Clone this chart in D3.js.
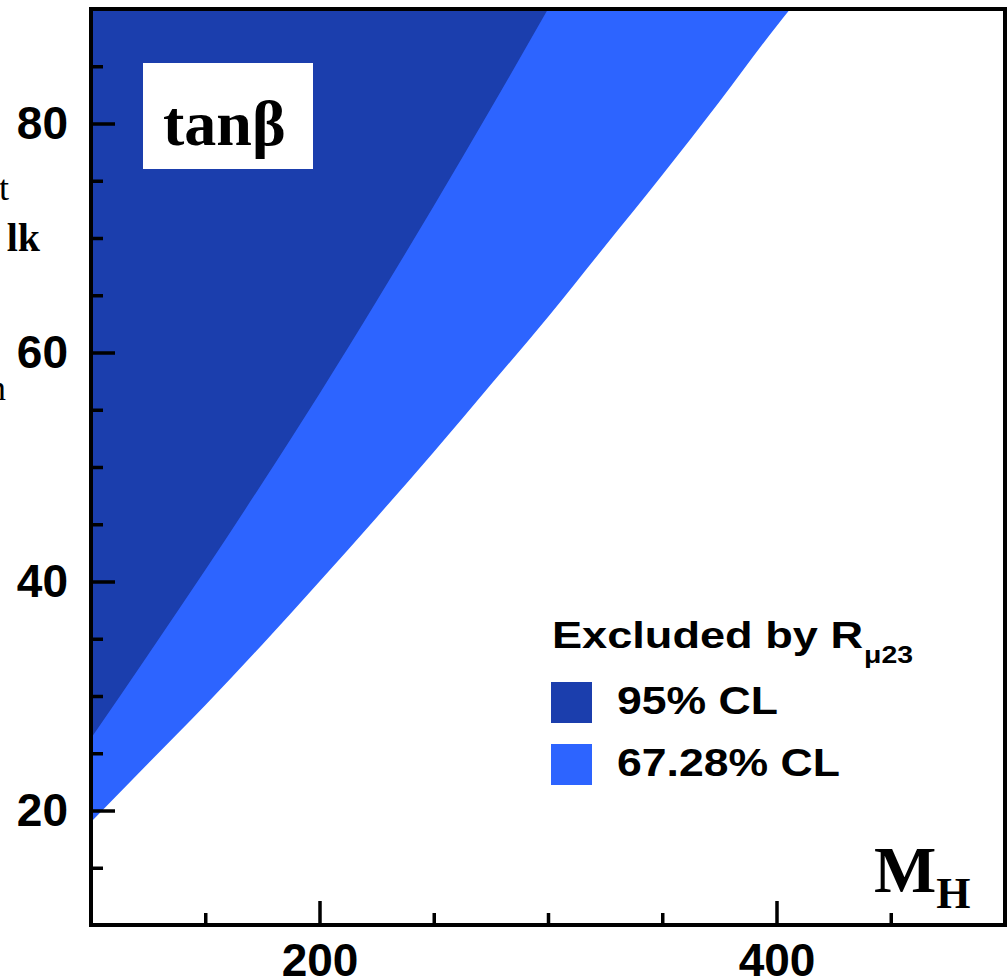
<!DOCTYPE html>
<html>
<head>
<meta charset="utf-8">
<script src="https://cdn.jsdelivr.net/npm/d3@7"></script>
<style>
  html, body { margin: 0; padding: 0; background: #fff; }
  svg { display: block; }
</style>
</head>
<body>
<div id="chart"></div>
<script>
// boundary of the 95% CL exclusion (M_H, tan beta)
const cl95Mass = [100, 125, 150, 175, 200, 225, 250, 275, 300];
const cl95TanB = [26.3, 33.6, 41.0, 48.6, 56.4, 64.5, 72.8, 81.3, 90.0];

// boundary of the 67.28% CL exclusion
const cl67Mass = [100, 125, 150, 175, 200, 225, 250, 275, 300, 325, 350, 375, 400, 406];
const cl67TanB = [19.0, 24.1, 29.2, 34.5, 40.0, 45.6, 51.3, 57.2, 63.1, 69.3, 75.5, 81.9, 88.5, 90.0];

const xMajorTicks = [200, 400];
const xMinorTicks = [150, 250, 300, 350, 450];
const yMajorTicks = [20, 40, 60, 80];
const yMinorTicks = [15, 25, 30, 35, 45, 50, 55, 65, 70, 75, 85];

const legendLabels = ["95% CL", "67.28% CL"];
const legendColors = ["#1b3ead", "#2d64ff"];
const legendWidths = [161, 223];

const width = 1008, height = 979;
const margins = { left: 91, right: 3, top: 9, bottom: 54 };

const svg = d3.select("#chart").append("svg")
    .attr("width", width)
    .attr("height", height);

const x = d3.scaleLinear().domain([100, 500]).range([margins.left, width - margins.right]);
const y = d3.scaleLinear().domain([10, 90]).range([height - margins.bottom, margins.top]);

// clip the filled regions to the frame
svg.append("clipPath").attr("id", "plot-clip")
  .append("rect")
    .attr("x", x(100)).attr("y", y(90))
    .attr("width", x(500) - x(100)).attr("height", y(10) - y(90));

const plot = svg.append("g").attr("clip-path", "url(#plot-clip)");

// excluded region = everything above the boundary curve
const area = d3.area()
    .x(d => x(d[0]))
    .y0(d => y(d[1]))
    .y1(y(90))
    .curve(d3.curveMonotoneX);

plot.append("path")
    .datum(d3.zip(cl67Mass, cl67TanB))
    .attr("fill", legendColors[1])
    .attr("d", area);

plot.append("path")
    .datum(d3.zip(cl95Mass, cl95TanB))
    .attr("fill", legendColors[0])
    .attr("d", area);

// ticks point into the plot
const tickFont = "'Liberation Sans', Arial, sans-serif";

function styleAxis(g) {
    g.select(".domain").remove();
    g.selectAll(".tick line").attr("stroke", "#000").attr("stroke-width", 3.5);
    g.selectAll(".tick text")
        .attr("fill", "#000")
        .style("font-family", tickFont)
        .style("font-weight", "bold")
        .style("font-size", "46px");
}

svg.append("g")
    .attr("transform", `translate(${x(100)},0)`)
    .call(d3.axisLeft(y).tickValues(yMinorTicks).tickSize(-12).tickFormat(""))
    .call(styleAxis);

svg.append("g")
    .attr("transform", `translate(${x(100)},0)`)
    .call(d3.axisLeft(y).tickValues(yMajorTicks).tickSize(-24).tickPadding(23))
    .call(styleAxis);

svg.append("g")
    .attr("transform", `translate(0,${y(10)})`)
    .call(d3.axisBottom(x).tickValues(xMinorTicks).tickSize(-12).tickFormat(""))
    .call(styleAxis);

svg.append("g")
    .attr("transform", `translate(0,${y(10)})`)
    .call(d3.axisBottom(x).tickValues(xMajorTicks).tickSize(-24).tickPadding(18))
    .call(styleAxis);

// frame
svg.append("rect")
    .attr("x", x(100)).attr("y", y(90))
    .attr("width", x(500) - x(100)).attr("height", y(10) - y(90))
    .attr("fill", "none")
    .attr("stroke", "#000")
    .attr("stroke-width", 4);

// tan beta label in a white box
const serif = "'Liberation Serif', 'Times New Roman', serif";

svg.append("rect")
    .attr("x", 143).attr("y", 63)
    .attr("width", 170).attr("height", 106)
    .attr("fill", "#fff");

svg.append("text")
    .attr("x", 163).attr("y", 145)
    .style("font-family", serif)
    .style("font-weight", "bold")
    .style("font-size", "64px")
    .text("tanβ");

// M_H axis title
const mh = svg.append("text")
    .attr("x", 874).attr("y", 892)
    .style("font-family", serif)
    .style("font-weight", "bold")
    .style("font-size", "66px")
    .text("M");
mh.append("tspan")
    .attr("dy", 16)
    .style("font-size", "44px")
    .text("H");

// legend
const legend = svg.append("g")
    .style("font-family", tickFont)
    .style("font-weight", "bold");

legend.append("text")
    .attr("x", 552).attr("y", 648)
    .attr("textLength", 311)
    .attr("lengthAdjust", "spacingAndGlyphs")
    .style("font-size", "36px")
    .text("Excluded by R");

legend.append("text")
    .attr("x", 864).attr("y", 663)
    .attr("textLength", 49)
    .attr("lengthAdjust", "spacingAndGlyphs")
    .style("font-size", "23px")
    .text("μ23");

legendLabels.forEach((label, i) => {
    const top = 682 + i * 62;
    legend.append("rect")
        .attr("x", 551).attr("y", top)
        .attr("width", 41).attr("height", 41)
        .attr("fill", legendColors[i]);
    legend.append("text")
        .attr("x", 617).attr("y", top + 32)
        .attr("textLength", legendWidths[i])
        .attr("lengthAdjust", "spacingAndGlyphs")
        .style("font-size", "39px")
        .text(label);
});

// cropped fragments of neighbouring text at the left margin
const fragments = [
    { text: "t", x: 9, y: 200, weight: "normal", size: 36 },
    { text: "lk", x: 40, y: 251, weight: "bold", size: 40 },
    { text: "n", x: 6, y: 400, weight: "normal", size: 36 }
];
svg.append("g").selectAll("text")
    .data(fragments)
    .join("text")
    .attr("x", d => d.x).attr("y", d => d.y)
    .attr("text-anchor", "end")
    .style("font-family", serif)
    .style("font-weight", d => d.weight)
    .style("font-size", d => d.size + "px")
    .text(d => d.text);
</script>
</body>
</html>
